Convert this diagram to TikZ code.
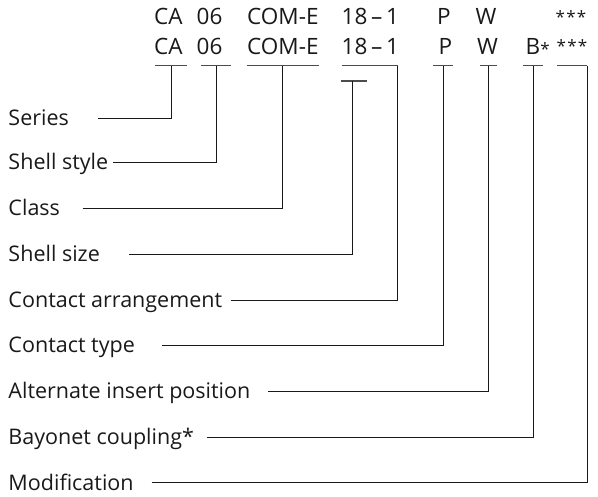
\documentclass[tikz,border=0pt]{standalone}
\usepackage{fontspec}
\setmainfont{Open Sans}
\begin{document}
\begin{tikzpicture}[x=1pt,y=-1pt,
  lab/.style={anchor=base west, inner sep=0pt, font=\fontsize{21.5}{24}\selectfont, text=black!90},
  code/.style={anchor=base west, inner sep=0pt, font=\fontsize{22.5}{26}\selectfont, text=black!90},
  star/.style={anchor=base west, inner sep=0pt, font=\fontsize{17}{20}\selectfont, text=black!90},
  uline/.style={line width=1.2pt, black!70},
  conn/.style={line width=1pt, black!90}]
\useasboundingbox (0,0) rectangle (598,497);
% code rows
\node[code] (a1) at (154,25) {CA};
\node[code] (b1) at (196.5,25) {06};
\node[code] (c1) at (247,25) {COM-E};
\node[code] (d1) at (341.5,25) {18\,–\,1};
\node[code] (e1) at (437,25) {P};
\node[code] (f1) at (475.5,25) {W};
\node[star] (h1) at (555.5,23.5) {*\kern1.2pt*\kern1.2pt*};
\node[code] (a2) at (154,54.5) {CA};
\node[code] (b2) at (196.5,54.5) {06};
\node[code] (c2) at (247,54.5) {COM-E};
\node[code] (d2) at (341.5,54.5) {18\,–\,1};
\node[code] (e2) at (438.5,54.5) {P};
\node[code] (f2) at (477,54.5) {W};
\node[code] (g2) at (525.5,54.5) {B\fontsize{17}{20}\selectfont\raisebox{-1.5pt}{*}};
\node[star] (h2) at (556.5,53) {*\kern1.2pt*\kern1.2pt*};
% underlines
\draw[uline] (155,65.7) -- (187,65.7);
\draw[uline] (201,65.7) -- (231,65.7);
\draw[uline] (246.7,65.7) -- (319.3,65.7);
\draw[uline] (341.5,65.7) -- (398,65.7);
\draw[uline] (340.7,81) -- (367.3,81);
\draw[uline] (433.3,65.7) -- (453.3,65.7);
\draw[uline] (480,65.7) -- (497.3,65.7);
\draw[uline] (523.3,65.7) -- (543.3,65.7);
\draw[uline] (557.3,65.7) -- (587.3,65.7);
% junction coordinates
\coordinate (j1) at (171.5,65.7);
\coordinate (j2) at (216,65.7);
\coordinate (j3) at (282.3,65.7);
\coordinate (j4) at (352,81);
\coordinate (j5) at (397.7,65.7);
\coordinate (j6) at (443.3,65.7);
\coordinate (j7) at (488.7,65.7);
\coordinate (j8) at (533.3,65.7);
\coordinate (j9) at (587,65.7);
% line starts
\coordinate (s1) at (98,118.5);
\coordinate (s2) at (113,163);
\coordinate (s3) at (82.7,209);
\coordinate (s4) at (129,254.5);
\coordinate (s5) at (230.5,300.5);
\coordinate (s6) at (162.3,346);
\coordinate (s7) at (268.3,391.5);
\coordinate (s8) at (206.7,437.7);
\coordinate (s9) at (151.7,483);
% labels
\node[lab] (l1) at (8.3,125.5) {Series};
\node[lab] (l2) at (8.3,170) {Shell style};
\node[lab] (l3) at (8.3,216) {Class};
\node[lab] (l4) at (8.3,261.5) {Shell size};
\node[lab] (l5) at (8.3,307.5) {Contact arrangement};
\node[lab] (l6) at (8.3,353) {Contact type};
\node[lab] (l7) at (8.3,398.5) {Alternate insert position};
\node[lab] (l8) at (8.3,444.7) {Bayonet coupling*};
\node[lab] (l9) at (8.3,490) {Modification};
% connectors
\foreach \i in {1,...,9} \draw[conn] (s\i) -| (j\i);
\end{tikzpicture}
\end{document}
